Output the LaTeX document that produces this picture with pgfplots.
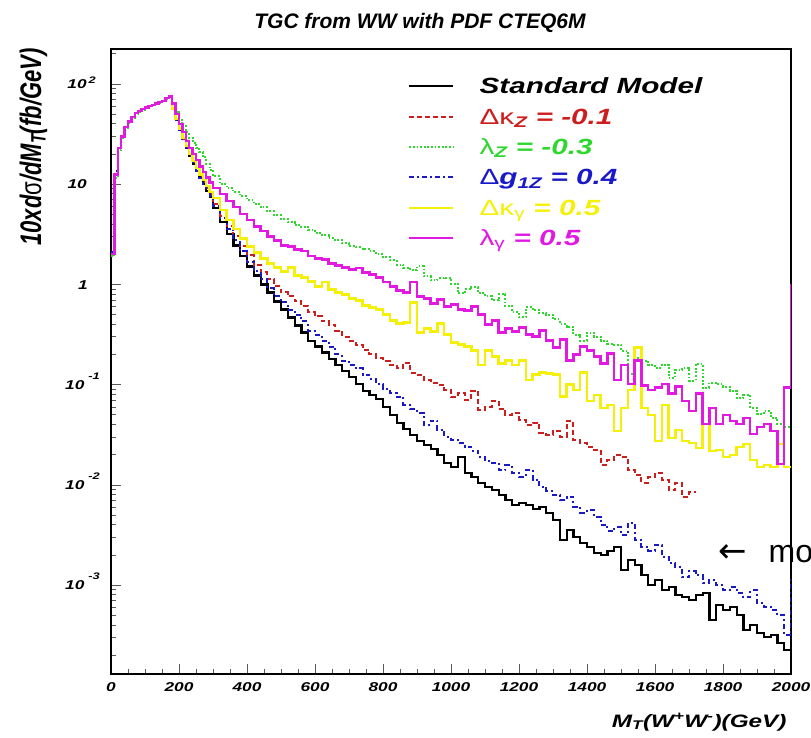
\documentclass[border=0pt]{standalone}
\usepackage{fontspec}
\setmainfont{Liberation Sans}
\newfontfamily\widefont[FakeStretch=1.35]{Liberation Sans}
\newfontfamily\dejavu{DejaVu Sans}
\usepackage{graphicx}
\usepackage{pgfplots}
\usepackage{pgfplotstable}
\pgfplotsset{compat=1.18}

\definecolor{rred}{RGB}{205,30,30}
\definecolor{rgreen}{RGB}{45,215,45}
\definecolor{rblue}{RGB}{25,25,200}
\definecolor{ryellow}{RGB}{245,240,10}
\definecolor{rmagenta}{RGB}{225,25,225}
\definecolor{tickgray}{RGB}{90,90,90}

\newcommand\gr[1]{{\mdseries\upshape #1}}
\newcommand\supl[2]{\raisebox{#1}{\fontsize{9.5}{10}\selectfont #2}}
\newcommand\pad[1]{\rule{#1}{0pt}}

\pgfplotstableread{
X sm dkz lz dg dkg lg
0 2.0 2.0 1.9 2.1 2.0 2.0
10 12.5 12.5 11.5 13.5 12.5 12.5
20 23 23 22 23 23 23
30 30 30 29 30 30 30
40 37 37 36 37 37 37
50 42 42 41 42 42 42
60 47 47 46 47 47 47
70 51 51 50 51 51 51
80 54 54 53 54 54 54
90 56 56 55 56 56 56
100 58 58 57 58 58 58
110 60 60 59 60 60 60
120 62 62 61 62 62 62
130 64 64 63 64 64 64
140 66 66 65 66 66 66
150 68 68 67 68 68 68
160 72 72 71 72 72 72
170 75 75 74 75 75 75
180 57 57 62 57 57 64
190 44 44 52 44 44.5 50
200 35 35.5 44 35 36 40
210 28 28.5 38 28 29 33
220 23 23.5 33 23 24 27
230 19 19.5 29 19 20 23
240 16 16.5 26 16 17 20
250 13.5 14 23 13.6 14.5 17.5
260 11.5 12 21 11.6 12.5 15
270 10 10.5 18.5 10.1 11 13.2
280 8.6 9.2 16 8.8 9.6 11.7
290 7.4 8.0 14 7.6 8.4 10.4
300 5.75 6.31 12 6.03 7.24 9.12
320 4.17 4.79 10.0 4.57 5.50 7.94
340 3.16 3.80 9.12 3.55 4.37 6.76
360 2.45 3.02 8.32 2.75 3.55 5.89
380 1.91 2.40 7.59 2.14 2.88 5.01
400 1.51 1.95 6.92 1.66 2.40 4.37
420 1.23 1.58 6.31 1.35 2.09 3.80
440 1.0 1.32 5.89 1.12 1.82 3.39
460 0.832 1.12 5.37 0.912 1.62 3.02
480 0.676 0.955 4.90 0.759 1.48 2.75
500 0.562 0.832 4.47 0.661 1.35 2.45
520 0.468 0.759 4.17 0.562 1.48 2.40
540 0.389 0.676 3.89 0.501 1.23 2.24
560 0.331 0.603 3.72 0.427 1.17 2.14
580 0.275 0.525 3.47 0.347 1.07 1.91
600 0.240 0.479 3.24 0.316 0.955 1.82
620 0.209 0.427 3.09 0.275 1.05 1.78
640 0.182 0.398 2.88 0.240 0.891 1.62
660 0.158 0.347 2.75 0.200 0.832 1.55
680 0.138 0.302 2.57 0.174 0.794 1.48
700 0.120 0.275 2.40 0.158 0.724 1.41
720 0.102 0.251 2.34 0.145 0.692 1.45
740 0.0871 0.224 2.24 0.126 0.617 1.32
760 0.0794 0.200 2.14 0.115 0.589 1.26
780 0.0724 0.186 2.00 0.102 0.562 1.17
800 0.0603 0.174 1.86 0.0912 0.501 1.05
820 0.0501 0.158 1.74 0.0832 0.437 0.955
840 0.0417 0.148 1.58 0.0759 0.407 0.871
860 0.0363 0.166 1.45 0.0631 0.417 0.832
880 0.0316 0.132 1.38 0.0575 0.661 1.05
900 0.0275 0.126 1.51 0.0525 0.331 0.759
920 0.0251 0.112 1.20 0.0398 0.363 0.724
940 0.0229 0.105 1.10 0.0437 0.339 0.646
960 0.0200 0.100 1.15 0.0355 0.407 0.708
980 0.0166 0.0891 1.17 0.0302 0.316 0.603
1000 0.0151 0.0759 1.02 0.0282 0.263 0.631
1020 0.0191 0.0832 0.813 0.0263 0.251 0.562
1040 0.0132 0.0708 0.891 0.0240 0.240 0.550
1060 0.0120 0.0871 0.933 0.0219 0.219 0.603
1080 0.0105 0.0562 0.813 0.0191 0.158 0.501
1100 0.00955 0.0603 0.759 0.0174 0.219 0.398
1120 0.00891 0.0692 0.692 0.0166 0.191 0.437
1140 0.00794 0.0575 0.794 0.0141 0.162 0.331
1160 0.00708 0.0501 0.603 0.0158 0.174 0.363
1180 0.00631 0.0525 0.525 0.0132 0.158 0.339
1200 0.00661 0.0447 0.468 0.0120 0.174 0.372
1220 0.00631 0.0398 0.589 0.0141 0.112 0.316
1240 0.00575 0.0417 0.550 0.0112 0.126 0.302
1260 0.00603 0.0331 0.513 0.00955 0.132 0.347
1280 0.00525 0.0316 0.501 0.00871 0.129 0.275
1300 0.00447 0.0347 0.447 0.00794 0.126 0.234
1320 0.00282 0.0302 0.407 0.00708 0.0759 0.282
1340 0.00355 0.0437 0.380 0.00759 0.100 0.174
1360 0.00302 0.0282 0.316 0.00603 0.0891 0.200
1380 0.00263 0.0263 0.275 0.00525 0.132 0.240
1400 0.00240 0.0240 0.331 0.00562 0.0692 0.219
1420 0.00209 0.0224 0.302 0.00479 0.0794 0.191
1440 0.00200 0.0158 0.275 0.00398 0.0589 0.162
1460 0.00219 0.0178 0.257 0.00347 0.0631 0.204
1480 0.00240 0.0200 0.251 0.00380 0.0347 0.112
1500 0.00141 0.0191 0.219 0.00316 0.0589 0.158
1520 0.00178 0.0141 0.129 0.00417 0.0891 0.102
1540 0.00158 0.0126 0.186 0.00282 0.234 0.174
1560 0.00126 0.0105 0.174 0.00240 0.0589 0.0977
1580 0.00100 0.0120 0.158 0.00219 0.0501 0.0891
1600 0.00112 0.0132 0.148 0.00251 0.0275 0.0933
1620 0.000891 0.0112 0.158 0.00191 0.0631 0.102
1640 0.000955 0.00891 0.117 0.00166 0.0295 0.0813
1660 0.000794 0.0105 0.141 0.00151 0.0355 0.0955
1680 0.000759 0.00759 0.148 0.00120 0.0275 0.0692
1700 0.000708 0.0085 0.110 0.00138 0.0263 0.0550
1720 0.000794 0.0085 0.162 0.00126 0.0234 0.0813
1740 0.000832 nan 0.0933 0.00105 0.0407 0.0407
1760 0.000447 nan 0.105 0.00112 0.0219 0.0589
1780 0.000631 nan 0.102 0.00100 0.0224 0.0407
1800 0.000562 nan 0.0955 0.000891 0.0191 0.0501
1820 0.000603 nan 0.0871 0.000955 0.0200 0.0437
1840 0.000501 nan 0.0741 0.000832 0.0240 0.0407
1860 0.000355 nan 0.0794 0.000759 0.0257 0.0468
1880 0.000398 nan 0.0589 0.000891 0.0178 0.0324
1900 0.000331 nan 0.0513 0.000661 0.0151 0.0380
1920 0.000302 nan 0.0550 0.000603 0.0158 0.0407
1940 0.000316 nan 0.0468 0.000562 0.0151 0.0347
1960 0.000263 nan 0.0407 0.000501 0.0257 0.0162
1980 0.000224 nan 0.0380 0.000316 0.0151 0.0933
2000 0.000224 nan 0.0380 0.00120 0.0151 1.0
}\histdata

\begin{document}
\begin{tikzpicture}
\useasboundingbox (0,0) rectangle (811pt,737pt);
\begin{axis}[
  at={(111pt,63pt)}, anchor=south west,
  scale only axis, width=680pt, height=625pt,
  xmin=0, xmax=2000, ymode=log, ymin=1.3e-4, ymax=223,
  axis line style={line width=1.6pt, black},
  tick pos=left, tick align=inside,
  major tick length=10pt, minor tick length=5pt,
  tick style={line width=0.8pt, color=tickgray},
  xtick={0,200,400,600,800,1000,1200,1400,1600,1800,2000},
  xticklabels={0,200,400,600,800,1000,1200,1400,1600,1800,2000},
  minor x tick num=3,
  ytick={1e-3,1e-2,1e-1,1,10,100},
  yticklabels={10\hspace{4pt}\supl{10pt}{-3},10\hspace{4pt}\supl{10pt}{-2},10\hspace{4pt}\supl{10pt}{-1},1\pad{12pt},10\pad{13pt},10\hspace{2pt}\supl{5pt}{2}\pad{4pt}},
  minor ytick={2e-4,3e-4,4e-4,5e-4,6e-4,7e-4,8e-4,9e-4,2e-3,3e-3,4e-3,5e-3,6e-3,7e-3,8e-3,9e-3,2e-2,3e-2,4e-2,5e-2,6e-2,7e-2,8e-2,9e-2,0.2,0.3,0.4,0.5,0.6,0.7,0.8,0.9,2,3,4,5,6,7,8,9,20,30,40,50,60,70,80,90,200},
  /pgf/number format/assume math mode=true,
  xticklabel style={font=\widefont\bfseries\itshape\fontsize{12.8}{14}\selectfont, inner sep=0pt, anchor=north, yshift=-8pt},
  yticklabel style={font=\widefont\bfseries\itshape\fontsize{12.8}{14}\selectfont, inner sep=0pt, anchor=base east, xshift=-11pt, yshift=-4.6pt},
  every axis plot/.append style={const plot, mark=none},
  legend cell align=left,
  legend style={draw=none, fill=none, at={(0.4368,0.9536)}, anchor=north west,
    font=\widefont\bfseries\itshape\fontsize{22}{24}\selectfont,
    inner sep=0pt, row sep=9.4pt, column sep=0pt,
    nodes={inner sep=0pt, text height=15.5pt, text depth=5.5pt, anchor=base west}},
  legend image code/.code={\draw[#1] (0pt,7.5pt) -- (44pt,7.5pt);},
]
\addplot[black, line width=2.2pt] table[x=X, y=sm] {\histdata};
\addlegendentry{\hspace{25pt}Standard Model}
\addplot[rred, line width=2pt, dash pattern=on 5pt off 3pt] table[x=X, y=dkz] {\histdata};
\addlegendentry{\hspace{25pt}\textcolor{rred}{\gr{Δκ}\textsubscript{Z} = -0.1}}
\addplot[rgreen, line width=2pt, dash pattern=on 1.8pt off 1.8pt] table[x=X, y=lz] {\histdata};
\addlegendentry{\hspace{25pt}\textcolor{rgreen}{\gr{λ}\textsubscript{Z} = -0.3}}
\addplot[rblue, line width=2pt, dash pattern=on 5pt off 3pt on 2pt off 3pt] table[x=X, y=dg] {\histdata};
\addlegendentry{\hspace{25pt}\textcolor{rblue}{\gr{Δ}g\textsubscript{1Z} = 0.4}}
\addplot[ryellow, line width=2.4pt] table[x=X, y=dkg] {\histdata};
\addlegendentry{\hspace{25pt}\textcolor{ryellow}{\gr{Δκ}\textsubscript{\gr{γ}} = 0.5}}
\addplot[rmagenta, line width=2.4pt] table[x=X, y=lg] {\histdata};
\addlegendentry{\hspace{25pt}\textcolor{rmagenta}{\gr{λ}\textsubscript{\gr{γ}} = 0.5}}
\end{axis}
\node[anchor=base, font=\fontsize{21}{24}\selectfont\bfseries\itshape] at (420pt,708pt) {TGC from WW with PDF CTEQ6M};
\node[rotate=90, anchor=base, font=\fontsize{22}{24}\selectfont\bfseries\itshape] at (41pt,590pt) {\scalebox{1}[1.35]{10xd\gr{σ}/dM\textsubscript{T}(fb/GeV)}};
\node[anchor=base east, font=\widefont\bfseries\itshape\fontsize{18}{20}\selectfont] at (790pt,10pt) {M\textsubscript{T}(W\textsuperscript{+}W\textsuperscript{-})(GeV)};
\node[anchor=base west, font=\fontsize{32}{36}\selectfont, inner sep=0pt] at (718pt,175pt) {{\dejavu\fontsize{34}{36}\selectfont ←}\hspace{22pt}mo};
\end{tikzpicture}
\end{document}
